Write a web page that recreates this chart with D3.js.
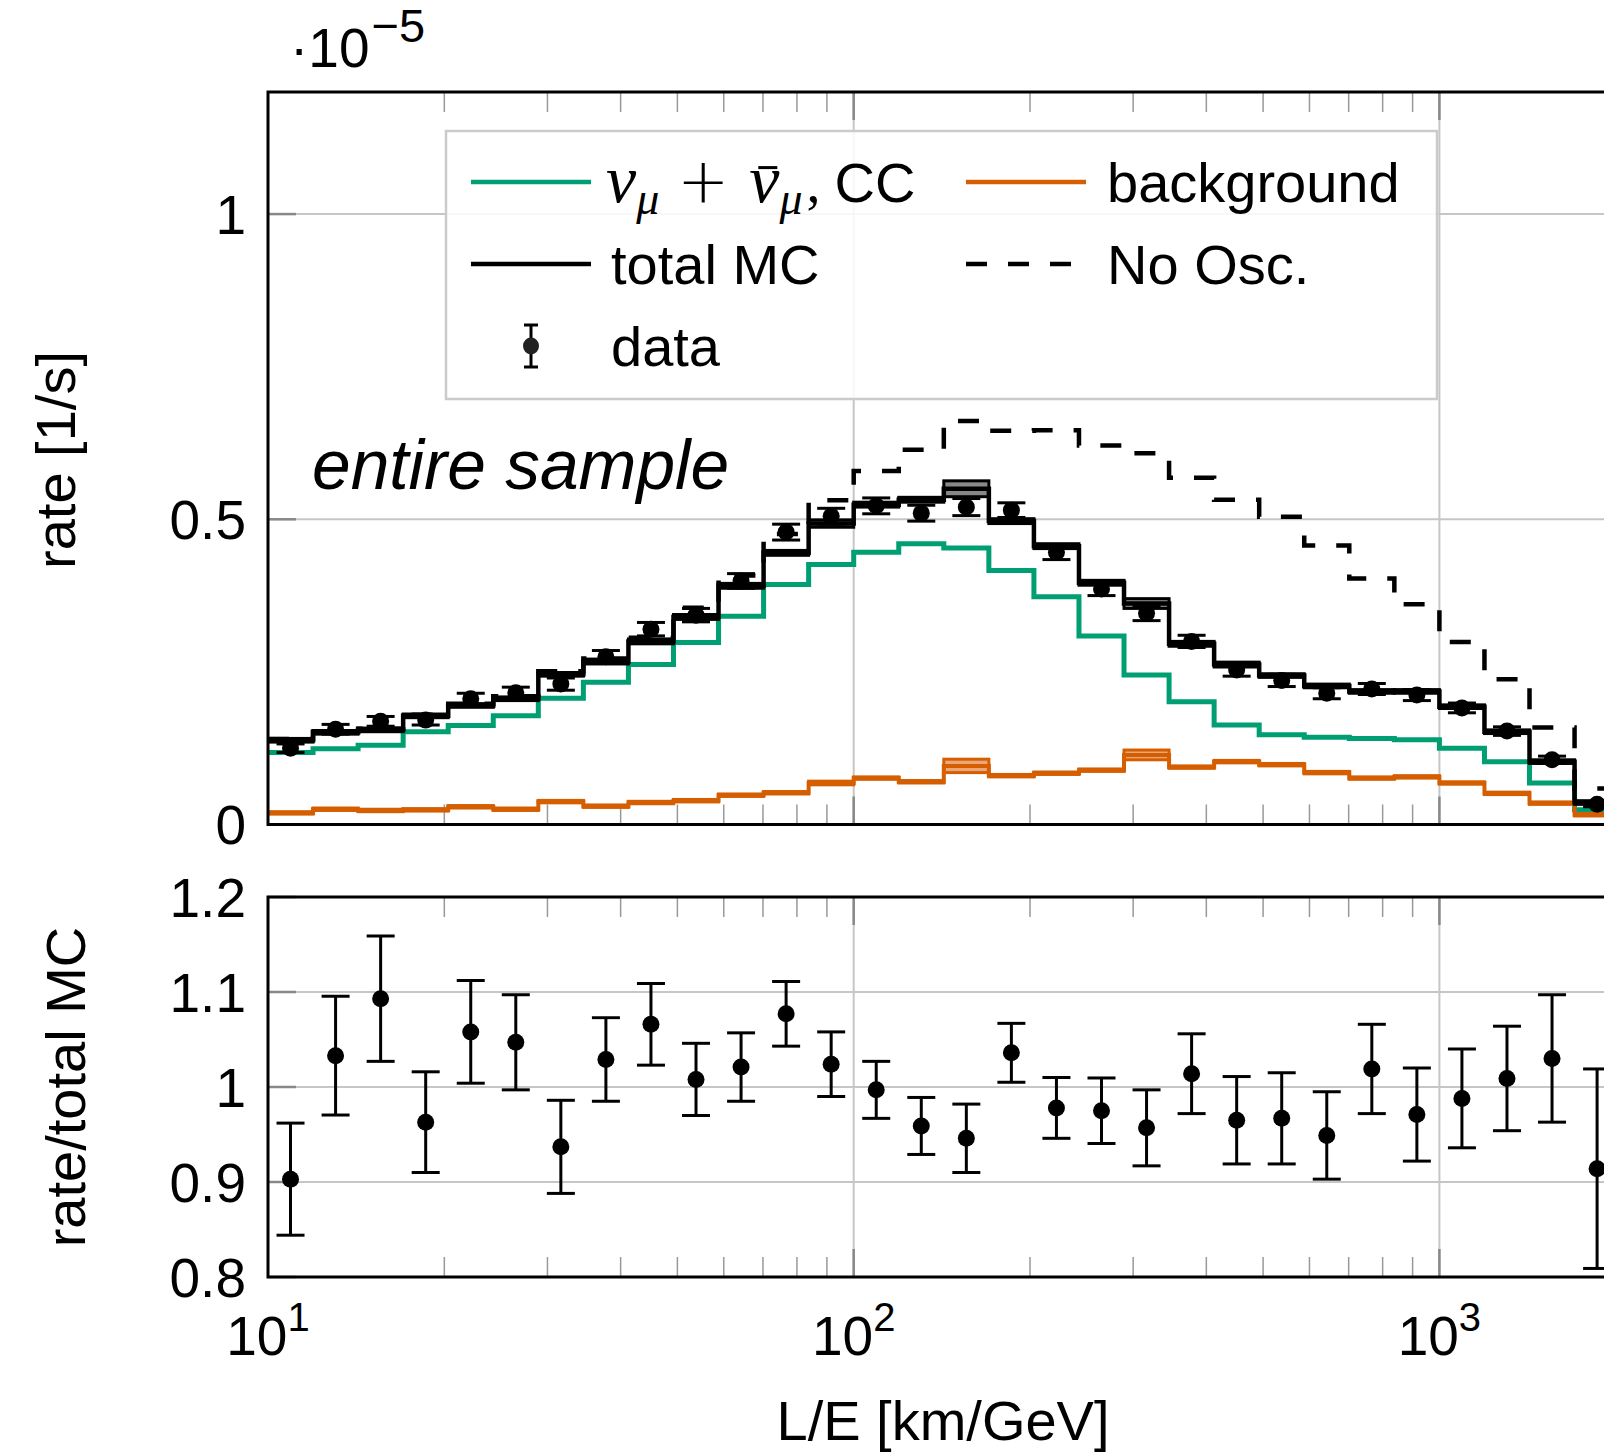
<!DOCTYPE html>
<html>
<head>
<meta charset="utf-8">
<script src="https://cdn.jsdelivr.net/npm/d3@7"></script>
<style>
  body { margin: 0; background: #fff; }
  svg { display: block; font-family: "Liberation Sans", Arial, sans-serif; }
</style>
</head>
<body>
<svg id="chart" width="1604" height="1455"></svg>
<script>
// 13 log bins per decade, starting at L/E = 10 km/GeV
const binsPerDecade = 13;
const nBins = 30;
const binEdges = d3.range(nBins + 1).map((k) => Math.pow(10, 1 + k / binsPerDecade));

// rates in units of 1e-5 1/s
const ccRate = [0.118, 0.124, 0.130, 0.152, 0.162, 0.178, 0.207, 0.233, 0.262, 0.298,
  0.341, 0.393, 0.426, 0.446, 0.460, 0.453, 0.416, 0.373, 0.309, 0.245,
  0.201, 0.163, 0.147, 0.143, 0.141, 0.139, 0.125, 0.103, 0.068, 0.024];
const bkgRate = [0.019, 0.025, 0.023, 0.024, 0.029, 0.025, 0.0375, 0.030, 0.036, 0.039,
  0.048, 0.052, 0.068, 0.076, 0.070, 0.096, 0.080, 0.084, 0.089, 0.114,
  0.094, 0.103, 0.098, 0.085, 0.076, 0.078, 0.068, 0.051, 0.035, 0.016];
const bkgBand = [0.002, 0.002, 0.002, 0.002, 0.002, 0.002, 0.002, 0.002, 0.002, 0.002,
  0.002, 0.002, 0.003, 0.002, 0.002, 0.011, 0.002, 0.002, 0.002, 0.008,
  0.002, 0.002, 0.002, 0.002, 0.002, 0.002, 0.002, 0.002, 0.002, 0.002];
const totalRate = [0.138, 0.151, 0.155, 0.178, 0.195, 0.206, 0.246, 0.267, 0.300, 0.340,
  0.391, 0.445, 0.493, 0.524, 0.532, 0.550, 0.497, 0.456, 0.396, 0.362,
  0.296, 0.262, 0.244, 0.227, 0.218, 0.218, 0.193, 0.152, 0.103, 0.036];
const totalBand = [0.003, 0.003, 0.003, 0.003, 0.003, 0.003, 0.003, 0.004, 0.004, 0.004,
  0.004, 0.004, 0.006, 0.004, 0.004, 0.013, 0.004, 0.004, 0.004, 0.008,
  0.004, 0.004, 0.003, 0.003, 0.003, 0.003, 0.003, 0.003, 0.003, 0.003];
const noOscRate = [0.140, 0.152, 0.157, 0.180, 0.198, 0.210, 0.251, 0.272, 0.306, 0.355,
  0.408, 0.476, 0.531, 0.579, 0.614, 0.661, 0.645, 0.646, 0.621, 0.608,
  0.568, 0.532, 0.504, 0.457, 0.403, 0.361, 0.299, 0.238, 0.159, 0.059];
const dataRate = [0.125, 0.156, 0.169, 0.171, 0.206, 0.216, 0.230, 0.275, 0.320, 0.343,
  0.399, 0.479, 0.505, 0.522, 0.510, 0.520, 0.515, 0.446, 0.386, 0.346,
  0.300, 0.253, 0.236, 0.215, 0.222, 0.212, 0.191, 0.153, 0.106, 0.033];
const dataErr = [0.007, 0.008, 0.008, 0.008, 0.009, 0.009, 0.010, 0.010, 0.011, 0.011,
  0.012, 0.013, 0.013, 0.013, 0.013, 0.014, 0.012, 0.012, 0.011, 0.012,
  0.010, 0.010, 0.010, 0.009, 0.009, 0.009, 0.008, 0.007, 0.006, 0.004];

// data / total MC
const ratio = [0.903, 1.033, 1.093, 0.963, 1.058, 1.047, 0.937, 1.029, 1.066, 1.008,
  1.021, 1.077, 1.024, 0.997, 0.959, 0.946, 1.036, 0.978, 0.975, 0.957,
  1.014, 0.965, 0.967, 0.949, 1.019, 0.971, 0.988, 1.009, 1.030, 0.914];
const ratioErr = [0.059, 0.0625, 0.066, 0.053, 0.054, 0.050, 0.049, 0.044, 0.043, 0.038,
  0.036, 0.034, 0.034, 0.030, 0.030, 0.036, 0.031, 0.032, 0.0345, 0.040,
  0.042, 0.046, 0.048, 0.046, 0.047, 0.049, 0.052, 0.055, 0.067, 0.105];

const rateTicks = [0, 0.5, 1];
const ratioTicks = [0.8, 0.9, 1, 1.1, 1.2];
const xDecades = [10, 100, 1000];

const green = "#009E73";
const orange = "#D55E00";
const gridColor = "#c6c6c6";

const svg = d3.select("#chart");
const left = 268;
const decadePx = 585.7;
const right = left + (nBins / binsPerDecade) * decadePx;
const upper = { top: 92, bottom: 824.5 };
const lower = { top: 897, bottom: 1277 };

const x = d3.scaleLog().domain([binEdges[0], binEdges[nBins]]).range([left, right]);
const yRate = d3.scaleLinear().domain([0, 1.2]).range([upper.bottom, upper.top]);
const yRatio = d3.scaleLinear().domain([0.8, 1.2]).range([lower.bottom, lower.top]);

const defs = svg.append("defs");
[["clipUpper", upper], ["clipLower", lower]].forEach(([id, p]) => {
  defs.append("clipPath").attr("id", id)
    .append("rect")
    .attr("x", left).attr("y", p.top)
    .attr("width", right - left).attr("height", p.bottom - p.top);
});

// minor ticks 2..9 in every decade
const minorTicks = [];
xDecades.forEach((d) => {
  for (let m = 2; m <= 9; m++) {
    if (d * m < binEdges[nBins]) minorTicks.push(d * m);
  }
});

function drawFrame(panel, yScale, yTicks, gridTicks) {
  const g = svg.append("g");
  // grid
  g.selectAll(".gx").data(xDecades.slice(1)).join("line")
    .attr("x1", x).attr("x2", x)
    .attr("y1", panel.top).attr("y2", panel.bottom)
    .attr("stroke", gridColor).attr("stroke-width", 2);
  g.selectAll(".gy").data(gridTicks).join("line")
    .attr("x1", left).attr("x2", right)
    .attr("y1", yScale).attr("y2", yScale)
    .attr("stroke", gridColor).attr("stroke-width", 2);
  // minor x ticks, inward on top and bottom
  [[panel.top, 20], [panel.bottom, -20]].forEach(([y0, len]) => {
    g.selectAll(null).data(minorTicks).join("line")
      .attr("x1", x).attr("x2", x)
      .attr("y1", y0).attr("y2", y0 + len)
      .attr("stroke", "#999").attr("stroke-width", 1.5);
    g.selectAll(null).data(xDecades.slice(1)).join("line")
      .attr("x1", x).attr("x2", x)
      .attr("y1", y0).attr("y2", y0 + len * 1.4)
      .attr("stroke", "#888").attr("stroke-width", 2.5);
  });
  // y ticks on the left
  g.selectAll(null).data(yTicks).join("line")
    .attr("x1", left).attr("x2", left + 28)
    .attr("y1", yScale).attr("y2", yScale)
    .attr("stroke", "#888").attr("stroke-width", 2.5);
  // y tick labels
  g.selectAll(null).data(yTicks).join("text")
    .attr("x", left - 22)
    .attr("y", yScale)
    .attr("dy", "0.36em")
    .attr("text-anchor", "end")
    .attr("font-size", 55)
    .text((d) => String(d));
  return g;
}

function drawFrameBox(panel) {
  svg.append("rect")
    .attr("x", left).attr("y", panel.top)
    .attr("width", right - left).attr("height", panel.bottom - panel.top)
    .attr("fill", "none").attr("stroke", "#000").attr("stroke-width", 3);
}

drawFrame(upper, yRate, rateTicks, [0.5, 1]);
drawFrame(lower, yRatio, ratioTicks, [0.9, 1, 1.1]);

// step line helper
const step = (yScale) => d3.line()
  .x((d) => x(d[0]))
  .y((d) => yScale(d[1]))
  .curve(d3.curveStepAfter);
const stepPoints = (vals) => binEdges.map((e, i) => [e, vals[Math.min(i, nBins - 1)]]);

const plotU = svg.append("g").attr("clip-path", "url(#clipUpper)");

// nu_mu CC
plotU.append("path")
  .attr("d", step(yRate)(stepPoints(ccRate)))
  .attr("fill", "none").attr("stroke", green).attr("stroke-width", 5);

// background with its band
plotU.selectAll(".bkgband").data(bkgRate).join("rect")
  .attr("x", (d, i) => x(binEdges[i]))
  .attr("width", (d, i) => x(binEdges[i + 1]) - x(binEdges[i]))
  .attr("y", (d, i) => yRate(d + bkgBand[i]))
  .attr("height", (d, i) => yRate(d - bkgBand[i]) - yRate(d + bkgBand[i]))
  .attr("fill", "#eba67a").attr("stroke", orange).attr("stroke-width", 3);
plotU.append("path")
  .attr("d", step(yRate)(stepPoints(bkgRate)))
  .attr("fill", "none").attr("stroke", orange).attr("stroke-width", 4);

// no oscillation
plotU.append("path")
  .attr("d", step(yRate)(stepPoints(noOscRate)))
  .attr("fill", "none").attr("stroke", "#000").attr("stroke-width", 4.5)
  .attr("stroke-dasharray", "21 21");

// total MC with its band
plotU.selectAll(".totband").data(totalRate).join("rect")
  .attr("x", (d, i) => x(binEdges[i]))
  .attr("width", (d, i) => x(binEdges[i + 1]) - x(binEdges[i]))
  .attr("y", (d, i) => yRate(d + totalBand[i]))
  .attr("height", (d, i) => yRate(d - totalBand[i]) - yRate(d + totalBand[i]))
  .attr("fill", "#888").attr("stroke", "#000").attr("stroke-width", 3);
plotU.append("path")
  .attr("d", step(yRate)(stepPoints(totalRate)))
  .attr("fill", "none").attr("stroke", "#000").attr("stroke-width", 4.5);

// data points with error bars
function errorPoints(g, vals, errs, yScale, capHalf) {
  const pts = g.selectAll(null).data(vals).join("g")
    .attr("transform", (d, i) => {
      const xc = Math.sqrt(binEdges[i] * binEdges[i + 1]);
      return `translate(${x(xc)},0)`;
    });
  pts.append("line")
    .attr("y1", (d, i) => yScale(d - errs[i]))
    .attr("y2", (d, i) => yScale(d + errs[i]))
    .attr("stroke", "#000").attr("stroke-width", 3);
  [-1, 1].forEach((s) => {
    pts.append("line")
      .attr("x1", -capHalf).attr("x2", capHalf)
      .attr("y1", (d, i) => yScale(d + s * errs[i]))
      .attr("y2", (d, i) => yScale(d + s * errs[i]))
      .attr("stroke", "#000").attr("stroke-width", 3);
  });
  pts.append("ellipse")
    .attr("cy", (d) => yScale(d))
    .attr("rx", 8.5).attr("ry", 8.5)
    .attr("fill", "#000");
}

errorPoints(plotU, dataRate, dataErr, yRate, 14);

const plotL = svg.append("g").attr("clip-path", "url(#clipLower)");
errorPoints(plotL, ratio, ratioErr, yRatio, 14);

drawFrameBox(upper);
drawFrameBox(lower);

// x tick labels 10^n
svg.selectAll(".xlab").data(xDecades).join("text")
  .attr("x", x)
  .attr("y", 1355)
  .attr("text-anchor", "middle")
  .attr("font-size", 55)
  .call((t) => {
    t.append("tspan").text("10");
    t.append("tspan").attr("dy", -24).attr("font-size", 40)
      .text((d) => String(Math.round(Math.log10(d))));
  });

// axis labels
svg.append("text")
  .attr("x", 943).attr("y", 1440)
  .attr("text-anchor", "middle").attr("font-size", 56)
  .text("L/E [km/GeV]");
svg.append("text")
  .attr("transform", "translate(57,460) rotate(-90)")
  .attr("dy", "0.33em")
  .attr("text-anchor", "middle").attr("font-size", 56)
  .text("rate [1/s]");
svg.append("text")
  .attr("transform", `translate(67,${(lower.top + lower.bottom) / 2}) rotate(-90)`)
  .attr("dy", "0.33em")
  .attr("text-anchor", "middle").attr("font-size", 56)
  .text("rate/total MC");

// scale factor above the y axis
svg.append("text")
  .attr("x", 290).attr("y", 67)
  .attr("font-size", 55)
  .call((t) => {
    t.append("tspan").text("\u00b710");
    t.append("tspan").attr("dy", -25).attr("dx", 2).attr("font-size", 47).text("\u2212" + "5");
  });

// sample label
svg.append("text")
  .attr("x", 312).attr("y", 489)
  .attr("font-size", 69.5).attr("font-style", "italic")
  .text("entire sample");

// legend
const legend = svg.append("g");
legend.append("rect")
  .attr("x", 446).attr("y", 131).attr("width", 991).attr("height", 268)
  .attr("fill", "#fff").attr("fill-opacity", 0.85)
  .attr("stroke", "#cbcbcb").attr("stroke-width", 2.5);

const rows = [182, 264, 346];
const legendLine = (x1, x2, y, color, dash) => {
  legend.append("line")
    .attr("x1", x1).attr("x2", x2).attr("y1", y).attr("y2", y)
    .attr("stroke", color).attr("stroke-width", 4.5)
    .attr("stroke-dasharray", dash || null);
};
const legendText = (x0, y, txt) =>
  legend.append("text").attr("x", x0).attr("y", y).attr("dy", "0.35em")
    .attr("font-size", 56).text(txt);

legendLine(471, 591, rows[0], green);
const baseline0 = rows[0] + 0.35 * 56;
const cc = legend.append("text").attr("x", 606).attr("y", baseline0)
  .attr("font-size", 56);
const greek = "'Liberation Serif', 'DejaVu Serif', serif";
cc.append("tspan").attr("font-family", greek).attr("font-style", "italic")
  .attr("font-size", 68).text("\u03bd");
cc.append("tspan").attr("font-family", greek).attr("font-style", "italic")
  .attr("font-size", 46).attr("dy", 12).text("\u03bc");
cc.append("tspan").attr("font-family", "'DejaVu Sans', sans-serif").attr("font-weight", 200)
  .attr("font-size", 62).attr("dy", -12).attr("dx", 18).text("+");
cc.append("tspan").attr("font-family", greek).attr("font-style", "italic")
  .attr("font-size", 68).attr("dx", 20).text("\u03bd");
cc.append("tspan").attr("font-family", greek).attr("font-style", "italic")
  .attr("font-size", 46).attr("dy", 12).text("\u03bc");
cc.append("tspan").attr("font-family", greek).attr("dy", -12).attr("dx", 4).text(",");
cc.append("tspan").attr("dx", 14).text("CC");
// bar over the second nu (index 3 in the text content)
const nuExt = cc.node().getExtentOfChar(3);
legend.append("line")
  .attr("x1", nuExt.x + nuExt.width * 0.3).attr("x2", nuExt.x + nuExt.width * 0.3 + 19)
  .attr("y1", baseline0 - 34).attr("y2", baseline0 - 34)
  .attr("stroke", "#000").attr("stroke-width", 3);

legendLine(966, 1086, rows[0], orange);
legendText(1107, rows[0], "background");

legendLine(471, 591, rows[1], "#000");
legendText(611, rows[1], "total MC");

legendLine(966, 1076, rows[1], "#000", "21 21");
legendText(1107, rows[1], "No Osc.");

const lm = legend.append("g").attr("transform", `translate(531,${rows[2]})`);
lm.append("line").attr("y1", -21).attr("y2", 21).attr("stroke", "#000").attr("stroke-width", 3);
[-21, 21].forEach((yy) => lm.append("line").attr("x1", -7).attr("x2", 7)
  .attr("y1", yy).attr("y2", yy).attr("stroke", "#000").attr("stroke-width", 3));
lm.append("ellipse").attr("rx", 8).attr("ry", 8.5).attr("fill", "#222");
legendText(611, rows[2], "data");
</script>
</body>
</html>
